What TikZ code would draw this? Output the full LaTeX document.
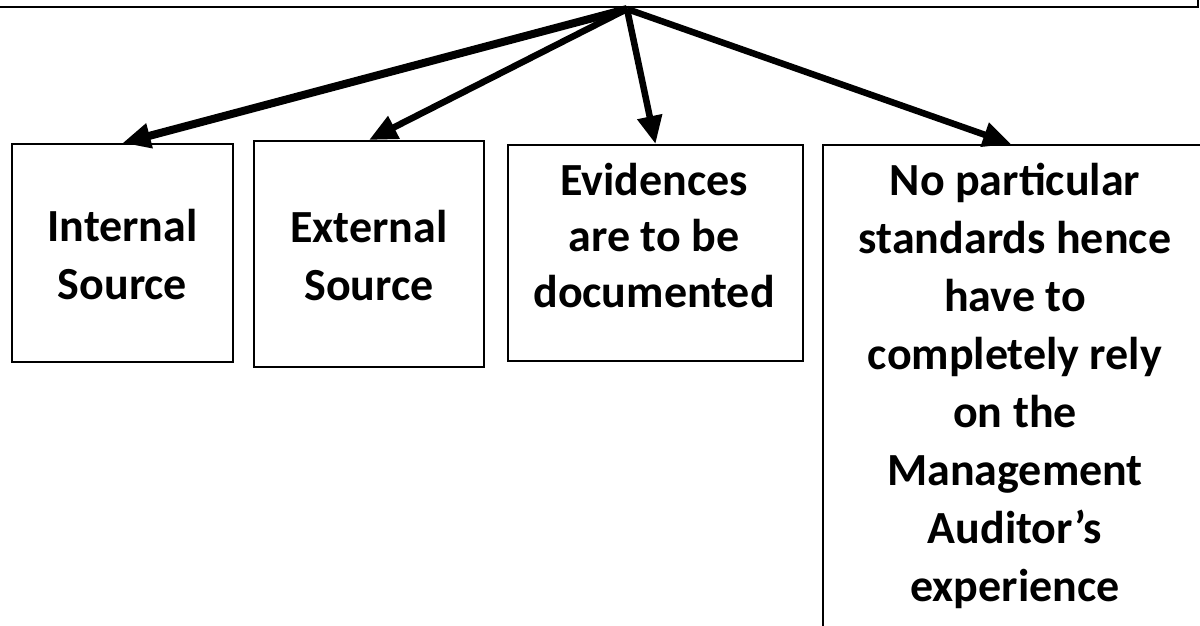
\documentclass[tikz,border=0pt]{standalone}
\usepackage{fontspec}
\setmainfont{Carlito}
\usetikzlibrary{arrows.meta}
\tikzset{
  srcbox/.style={draw=black, line width=2pt, inner sep=0pt},
  boxtext/.style={align=center, inner sep=0pt, font=\bfseries\fontsize{46}{58}\selectfont},
  bigarrow/.style={-{Triangle[length=28pt,width=24pt]}, line width=6.5pt}
}
\begin{document}
\begin{tikzpicture}[x=1pt,y=-1pt]
        \useasboundingbox (0,0) rectangle (1200,626);
        % Caja superior (cortada)
        \draw[line width=1.2pt] (-5,7) -- (1198,7) -- (1198,-5);
        \coordinate (apex) at (627,9);
        % Cajas
        \node[srcbox, minimum width=221pt, minimum height=218pt, anchor=north west] (internal) at (11,143) {};
        \node[srcbox, minimum width=230pt, minimum height=226pt, anchor=north west] (external) at (253,140) {};
        \node[srcbox, minimum width=295pt, minimum height=216pt, anchor=north west] (evidences) at (507,144) {};
        \node[srcbox, minimum width=386pt, minimum height=520pt, anchor=north west] (standards) at (822,144) {};
        % Textos
        \node[boxtext, yshift=-2pt] (internaltxt) at (internal.center) {Internal\\Source};
        \node[boxtext, yshift=-2pt] (externaltxt) at (external.center) {External\\Source};
        \node[boxtext, anchor=north, font=\bfseries\fontsize{46}{56}\selectfont] (evidencestxt) at (654,163) {Evidences\\are to be\\documented};
        \node[boxtext, anchor=north] (standardstxt) at (1015,163) {No particular\\standards hence\\have to\\completely rely\\on the\\Management\\Auditor’s\\experience};
        % Flechas
        \draw[bigarrow, line width=8pt] (apex) -- (internal.north);
        \draw[bigarrow] (apex) -- (external.north);
        \draw[bigarrow] (apex) -- (evidences.north);
        \draw[bigarrow] (apex) -- ([xshift=-5pt]standards.north);
    \end{tikzpicture}
\end{document}
